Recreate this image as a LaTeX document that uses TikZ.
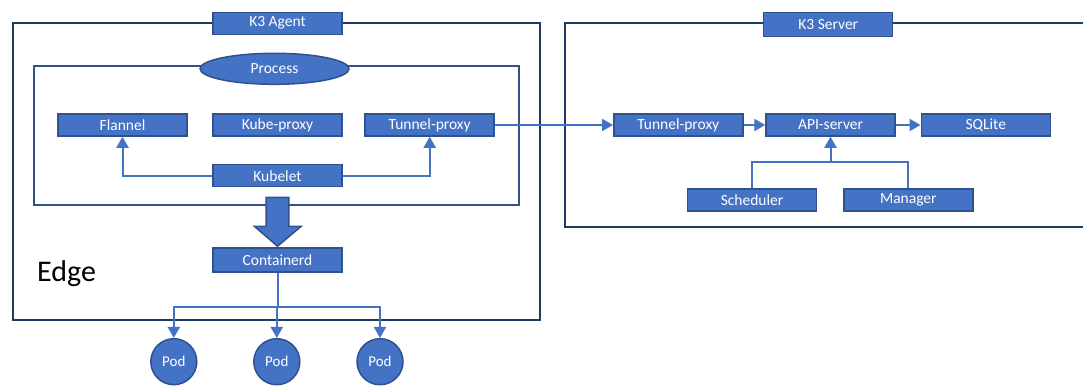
\documentclass[tikz,border=0pt]{standalone}
\usepackage{fontspec}
\setmainfont{Carlito}
\usetikzlibrary{arrows.meta,shapes.geometric,calc}
\definecolor{fillblue}{HTML}{4472C4}
\definecolor{edgeblue}{HTML}{2F528F}
\definecolor{navy}{HTML}{203864}
\begin{document}
\begin{tikzpicture}[x=1pt,y=-1pt,
  comp/.style={draw=edgeblue,line width=1.5pt,fill=fillblue,text=white,
    minimum width=129pt,minimum height=22pt,inner sep=0pt,font=\fontsize{15.5}{17}\selectfont},
  group/.style={draw=navy,line width=2pt},
  inner/.style={draw=edgeblue,line width=2pt},
  conn/.style={draw=fillblue,line width=2pt},
  arr/.style={conn,-{Triangle[length=11pt,width=12pt]}},
  pod/.style={circle,draw=edgeblue,line width=1.5pt,fill=fillblue,text=white,
    minimum size=46pt,inner sep=0pt,font=\fontsize{15}{17}\selectfont}]
\path[use as bounding box] (0,0) rectangle (1083,388);
\begin{scope}
\clip (0,0) rectangle (1083,388);
% group boxes
\draw[group] (12.9,23.3) rectangle (540,320.3);
\draw[inner] (33.7,65.7) rectangle (518.6,205);
\draw[group] (565.3,23.3) rectangle (1090,226.7);
\end{scope}
% labels
\node[comp] (agent) at (277.5,23.3) {K3 Agent};
\node[comp,minimum height=24pt] (server) at (828.2,24.5) {K3 Server};
\node[ellipse,draw=edgeblue,line width=1.5pt,fill=fillblue,text=white,
  minimum width=149pt,minimum height=31pt,inner sep=0pt,
  font=\fontsize{15.5}{17}\selectfont] (process) at (274.5,68.8) {Process};
% agent components
\node[comp] (flannel) at (122.5,125) {Flannel};
\node[comp] (kubeproxy) at (277.5,125) {Kube-proxy};
\node[comp] (tunnelA) at (429.7,125) {Tunnel-proxy};
\node[comp] (kubelet) at (277.5,175.7) {Kubelet};
\node[comp,minimum height=24pt] (containerd) at (277.5,260) {Containerd};
\node[anchor=base west,inner sep=0pt,font=\fontsize{30}{34}\selectfont] (edge) at (37,281.7) {Edge};
% pods
\node[pod] (pod1) at (173.8,361.7) {Pod};
\node[pod] (pod2) at (276.8,361.7) {Pod};
\node[pod] (pod3) at (380,361.7) {Pod};
% server components
\node[comp] (tunnelS) at (678.3,125) {Tunnel-proxy};
\node[comp] (api) at (830.5,125) {API-server};
\node[comp] (sqlite) at (985.8,125) {SQLite};
\node[comp] (sched) at (752,199.8) {Scheduler};
\node[comp] (manager) at (908.3,199.8) {Manager};
% connectors agent
\draw[arr] (kubelet.west) -| (flannel.south);
\draw[arr] (kubelet.east) -| (tunnelA.south);
\draw[arr] (tunnelA.east) -- (tunnelS.west);
% big arrow
\filldraw[fill=fillblue,draw=edgeblue,line width=1.5pt]
  ($(kubelet.south)+(-11.3,10)$) -- ($(kubelet.south)+(11.3,10)$)
  -- ($(kubelet.south)+(11.3,39)$) -- ($(kubelet.south)+(23.5,39)$)
  -- ($(containerd.north)+(0,-1)$)
  -- ($(kubelet.south)+(-23,39)$) -- ($(kubelet.south)+(-11.3,39)$) -- cycle;
% containerd to pods
\coordinate (split) at ($(containerd.south)+(0,34.7)$);
\draw[conn] (containerd.south) -- (split);
\draw[arr] (split) -| (pod1.north);
\draw[arr] (split) -| (pod3.north);
\draw[arr] (split) -- (split -| pod2.north) -- (pod2.north);
% server connectors
\draw[arr] (tunnelS.east) -- (api.west);
\draw[arr] (api.east) -- (sqlite.west);
\coordinate (join) at (api.south |- 0,161.7);
\draw[conn] (sched.north) |- (join);
\draw[conn] (manager.north) |- (join);
\draw[arr] (join) -- (api.south);
\end{tikzpicture}
\end{document}
